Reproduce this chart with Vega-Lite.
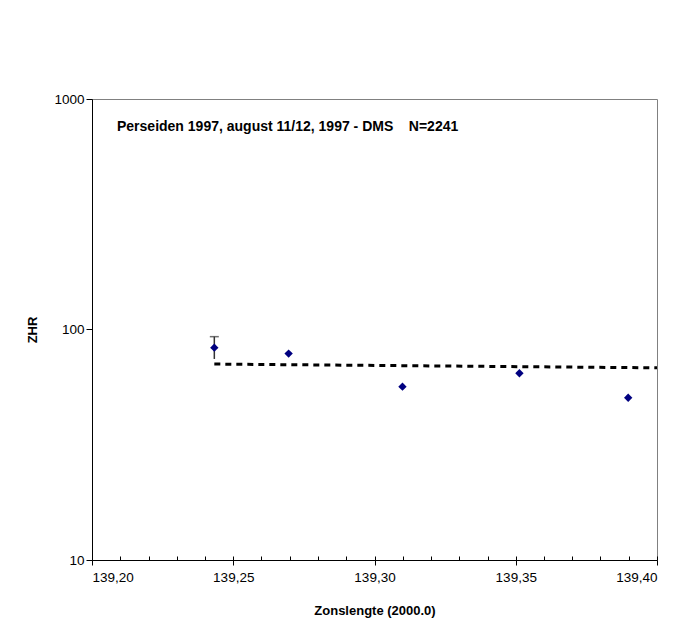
{
  "$schema": "https://vega.github.io/schema/vega-lite/v6.json",
  "width": 565,
  "height": 461,
  "autosize": {"type": "none"},
  "padding": {"left": 92, "top": 99, "right": 29, "bottom": 77},
  "background": "white",
  "title": {
    "text": "Perseiden 1997, august 11/12, 1997 - DMS \u00a0\u00a0\u00a0N=2241",
    "anchor": "start",
    "frame": "group",
    "orient": "top",
    "offset": -42,
    "dx": 25,
    "font": "Liberation Sans",
    "fontSize": 14,
    "fontWeight": "bold",
    "color": "black"
  },
  "datasets": {
    "pts": [
      {"x": 139.2433, "zhr": 83.4, "lo": 74.5, "hi": 93.1},
      {"x": 139.2696, "zhr": 78.6},
      {"x": 139.3099, "zhr": 56.5},
      {"x": 139.3513, "zhr": 64.6},
      {"x": 139.3898, "zhr": 50.6}
    ],
    "trend": [
      {"x": 139.2433, "t": 70.8},
      {"x": 139.4, "t": 68.2}
    ]
  },
  "layer": [
    {
      "data": {"name": "trend"},
      "mark": {"type": "line", "color": "black", "strokeWidth": 3, "strokeDash": [6, 5]},
      "encoding": {
        "x": {
          "field": "x", "type": "quantitative",
          "scale": {"domain": [139.2, 139.4], "nice": false, "zero": false},
          "axis": {
            "orient": "bottom",
            "values": [139.2, 139.21, 139.22, 139.23, 139.24, 139.25, 139.26, 139.27, 139.28, 139.29, 139.3, 139.31, 139.32, 139.33, 139.34, 139.35, 139.36, 139.37, 139.38, 139.39, 139.4],
            "tickSize": -4,
            "tickColor": "black",
            "labels": false,
            "domain": false,
            "grid": false,
            "title": null
          }
        },
        "y": {
          "field": "t", "type": "quantitative",
          "scale": {"type": "log", "domain": [10, 1000], "nice": false},
          "axis": {
            "values": [10, 100, 1000],
            "format": "d",
            "grid": false,
            "tickSize": 6,
            "tickColor": "black",
            "domainColor": "black",
            "labelFont": "Liberation Sans",
            "labelFontSize": 13.5,
            "labelColor": "black",
            "labelPadding": 2,
            "title": "ZHR",
            "titleFont": "Liberation Sans",
            "titleFontSize": 13,
            "titleFontWeight": "bold",
            "titleColor": "black",
            "titlePadding": 14
          }
        }
      }
    },
    {
      "data": {"name": "pts"},
      "transform": [{"filter": "isValid(datum.hi)"}],
      "mark": {"type": "rule", "color": "#333333", "strokeWidth": 1.5},
      "encoding": {
        "x": {"field": "x", "type": "quantitative", "axis": null},
        "y": {"field": "lo", "type": "quantitative"},
        "y2": {"field": "hi"}
      }
    },
    {
      "data": {"name": "pts"},
      "transform": [{"filter": "isValid(datum.hi)"}],
      "mark": {"type": "tick", "orient": "horizontal", "color": "#333333", "size": 9, "thickness": 1.5},
      "encoding": {
        "x": {"field": "x", "type": "quantitative", "axis": null},
        "y": {"field": "hi", "type": "quantitative"}
      }
    },
    {
      "data": {"name": "pts"},
      "mark": {"type": "point", "shape": "diamond", "filled": true, "color": "#000080", "size": 70, "opacity": 1},
      "encoding": {
        "x": {
          "field": "x", "type": "quantitative",
          "axis": {
            "orient": "bottom",
            "values": [139.2, 139.25, 139.3, 139.35, 139.4],
            "labelExpr": "replace(format(datum.value, '.2f'), '.', ',')",
            "tickSize": 5,
            "tickColor": "black",
            "domainColor": "black",
            "grid": false,
            "labelFont": "Liberation Sans",
            "labelFontSize": 13.5,
            "labelColor": "black",
            "labelPadding": 5,
            "title": "Zonslengte (2000.0)",
            "titleFont": "Liberation Sans",
            "titleFontSize": 13,
            "titleFontWeight": "bold",
            "titleColor": "black",
            "titlePadding": 21
          }
        },
        "y": {"field": "zhr", "type": "quantitative"}
      }
    }
  ],
  "resolve": {"axis": {"x": "independent"}},
  "config": {
    "view": {"stroke": "#808080", "strokeWidth": 1}
  }
}
